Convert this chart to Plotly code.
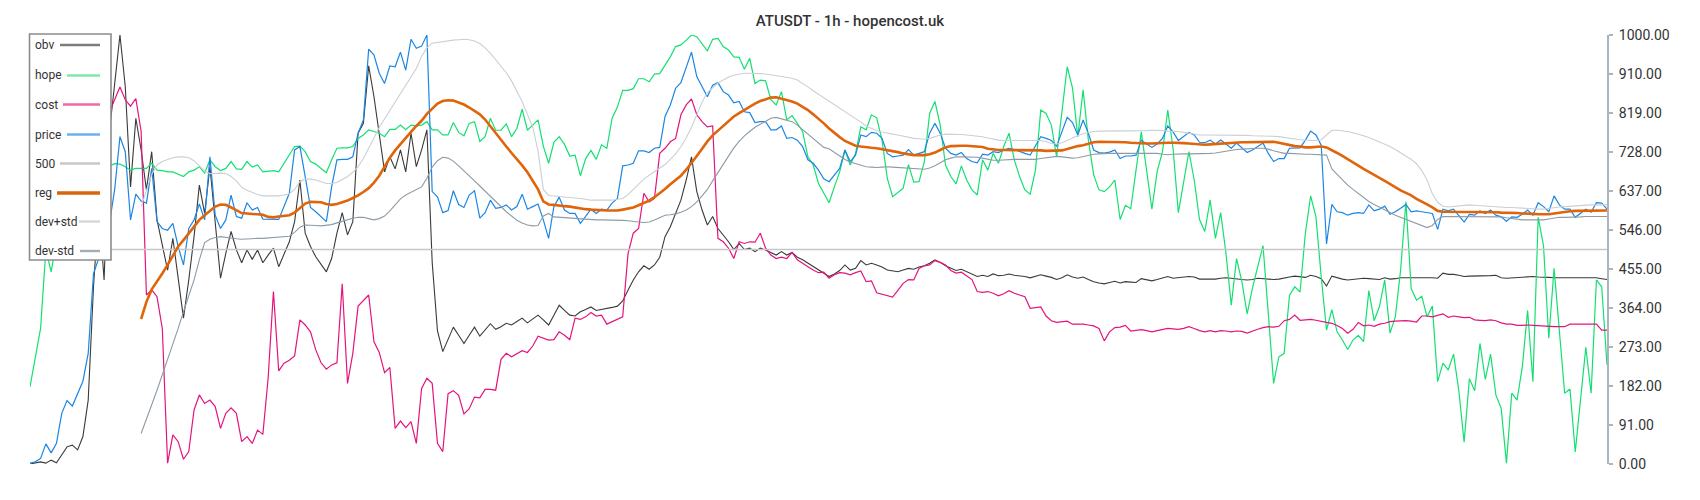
import plotly.graph_objects as go

# ---------------- data ----------------
obv = [
    0, 3, 5, 2, 9, 3, 21, 40, 44, 33,
    64, 149, 413, 600, 429, 774, 886, 1000, 880, 646,
    806, 732, 639, 728, 569, 507, 452, 526, 437, 340,
    429, 530, 650, 584, 693, 569, 433, 491, 542, 499,
    469, 499, 477, 499, 469, 487, 503, 460, 487, 518,
    565, 662, 538, 507, 483, 464, 448, 479, 538, 586,
    534, 565, 771, 794, 928, 856, 771, 681, 716, 688,
    732, 681, 771, 693, 732, 779, 470, 310, 262, 290,
    319, 300, 281, 300, 319, 298, 312, 327, 314, 320,
    328, 324, 332, 340, 329, 338, 347, 336, 324, 347,
    370, 358, 347, 345, 355, 360, 366, 358, 360, 362,
    365, 368, 380, 405, 429, 448, 462, 454, 464, 482,
    530, 553, 584, 615, 662, 716, 635, 592, 557, 577,
    549, 534, 518, 500, 514, 500, 503, 495, 503, 499,
    493, 487, 495, 487, 493, 482, 476, 468, 460, 452,
    445, 437, 443, 451, 464, 452, 456, 474, 464, 468,
    464, 459, 452, 450, 448, 452, 456, 454, 459, 462,
    468, 476, 470, 462, 456, 451, 454, 448, 443, 437,
    440, 437, 443, 439, 440, 443, 440, 439, 437, 434,
    437, 441, 438, 435, 430, 434, 441, 436, 433, 436,
    430, 425, 422, 420, 423, 426, 422, 425, 424, 423,
    432, 429, 427, 430, 433, 437, 433, 434, 436, 437,
    436, 431, 431, 431, 431, 433, 434, 433, 431, 430,
    429, 430, 433, 432, 431, 430, 431, 434, 436, 438,
    437, 435, 440, 437, 432, 415, 438, 434, 431, 429,
    430, 432, 433, 432, 431, 430, 434, 431, 432, 434,
    434, 434, 435, 434, 434, 434, 433, 445, 442, 442,
    440, 437, 438, 438, 438, 438, 439, 440, 434, 433,
    434, 435, 436, 437, 437, 436, 436, 435, 434, 434,
    433, 433, 433, 434, 434, 434, 434, 432, 430,
]

hope = [
    180, 250, 316, 500, 448, 520, 560, 600, 630, 650,
    670, 680, 690, 700, 690, 695, 700, 699, 693, 685,
    689, 689, 689, 701, 685, 684, 681, 681, 676, 670,
    681, 685, 693, 678, 709, 693, 684, 689, 705, 688,
    687, 705, 692, 697, 681, 683, 684, 681, 701, 720,
    740, 741, 728, 705, 699, 689, 679, 709, 736, 737,
    737, 740, 759, 767, 779, 775, 771, 763, 780, 780,
    790, 779, 790, 788, 790, 798, 779, 779, 767, 767,
    796, 773, 765, 794, 798, 752, 763, 806, 778, 778,
    793, 763, 782, 827, 778, 790, 802, 741, 701, 750,
    763, 745, 718, 720, 672, 712, 731, 710, 744, 736,
    806, 832, 871, 871, 875, 898, 898, 891, 909, 910,
    930, 949, 973, 977, 988, 1000, 996, 980, 963, 990,
    992, 973, 965, 949, 948, 920, 946, 887, 895, 893,
    849, 837, 868, 802, 812, 794, 775, 716, 697, 654,
    631, 609, 646, 681, 732, 697, 724, 786, 779, 814,
    807, 755, 666, 623, 633, 643, 698, 657, 658, 705,
    817, 845, 790, 697, 670, 653, 695, 662, 639, 627,
    709, 685, 724, 701, 740, 771, 709, 670, 639, 629,
    685, 825, 817, 790, 716, 829, 926, 876, 763, 872,
    755, 674, 639, 635, 646, 662, 570, 603, 595, 685,
    774, 685, 594, 682, 728, 825, 736, 586, 658, 728,
    662, 570, 542, 615, 526, 586, 491, 370, 479, 425,
    350, 410, 460, 509, 350, 188, 250, 258, 393, 413,
    401, 538, 625, 576, 436, 312, 360, 308, 289, 267,
    289, 300, 285, 404, 334, 367, 429, 305, 343, 452,
    611, 409, 382, 391, 343, 368, 192, 235, 219, 256,
    171, 51, 199, 171, 281, 197, 256, 161, 130, 2,
    165, 149, 227, 358, 192, 575, 509, 293, 456, 310,
    165, 175, 28, 150, 272, 165, 429, 413, 231,
]

cost = [None] * 15 + [
    820, 850, 879, 849, 834,
    852, 775, 394, 406, 390, 316, 2, 68, 52, 11,
    29, 126, 161, 141, 149, 134, 83, 118, 131, 118,
    52, 64, 48, 79, 69, 200, 402, 217, 235, 242,
    252, 336, 324, 308, 266, 236, 221, 231, 236, 420,
    188, 258, 368, 382, 394, 285, 260, 213, 225, 83,
    100, 85, 99, 48, 176, 200, 188, 48, 29, 164,
    171, 160, 117, 129, 156, 154, 174, 174, 172, 244,
    258, 250, 258, 264, 260, 275, 298, 293, 289, 290,
    308, 300, 290, 340, 337, 343, 353, 345, 347, 326,
    332, 337, 343, 490, 538, 549, 631, 611, 619, 724,
    736, 751, 759, 814, 837, 851, 814, 798, 786, 788,
    526, 518, 503, 479, 518, 514, 518, 517, 538, 503,
    487, 479, 482, 479, 493, 476, 469, 460, 452, 446,
    447, 433, 441, 446, 445, 441, 446, 450, 425, 427,
    399, 396, 392, 389, 405, 421, 430, 429, 456, 462,
    464, 474, 470, 464, 451, 445, 447, 438, 430, 402,
    400, 402, 398, 392, 397, 404, 398, 394, 390, 363,
    364, 366, 345, 334, 330, 332, 333, 326, 326, 326,
    324, 322, 316, 287, 308, 318, 319, 323, 310, 312,
    313, 311, 308, 311, 314, 316, 315, 314, 316, 320,
    316, 311, 308, 311, 308, 311, 310, 308, 310, 309,
    305, 310, 314, 318, 320, 319, 321, 334, 337, 347,
    335, 336, 337, 335, 332, 330, 328, 323, 316, 305,
    314, 330, 322, 324, 321, 326, 328, 332, 333, 334,
    334, 333, 331, 345, 345, 343, 347, 350, 342, 345,
    343, 341, 342, 336, 335, 334, 336, 334, 329, 326,
    326, 323, 323, 324, 323, 322, 321, 320, 320, 320,
    320, 326, 326, 326, 326, 326, 326, 312, 312,
]

price = [
    2, 5, 13, 47, 26, 48, 118, 148, 135, 165,
    193, 258, 444, 480, 520, 560, 640, 763, 728, 569,
    629, 613, 608, 689, 565, 549, 545, 561, 507, 464,
    549, 569, 606, 569, 716, 580, 549, 569, 627, 577,
    573, 609, 592, 598, 571, 571, 571, 570, 600, 631,
    732, 740, 670, 598, 588, 577, 565, 646, 709, 710,
    710, 716, 771, 802, 967, 953, 911, 887, 928, 926,
    960, 918, 990, 969, 974, 1000, 635, 623, 586, 591,
    637, 605, 598, 627, 637, 573, 586, 615, 596, 598,
    604, 592, 600, 629, 594, 600, 606, 569, 526, 600,
    622, 592, 584, 584, 561, 577, 594, 584, 594, 592,
    608, 619, 695, 697, 701, 730, 730, 726, 736, 738,
    810, 837, 876, 889, 926, 960, 903, 880, 856, 883,
    889, 868, 860, 842, 845, 821, 819, 796, 798, 798,
    779, 779, 788, 759, 761, 755, 740, 709, 701, 685,
    665, 658, 674, 689, 732, 705, 720, 767, 763, 773,
    771, 759, 724, 716, 718, 720, 733, 720, 724, 728,
    771, 794, 771, 736, 724, 720, 726, 712, 705, 702,
    722, 720, 728, 726, 732, 736, 733, 728, 724, 720,
    740, 763, 759, 754, 741, 775, 808, 796, 767, 802,
    771, 732, 726, 725, 727, 732, 712, 718, 718, 720,
    755, 746, 738, 746, 759, 788, 774, 754, 763, 773,
    767, 750, 749, 755, 746, 755, 746, 736, 748, 736,
    726, 732, 740, 748, 724, 705, 712, 712, 736, 737,
    737, 755, 776, 767, 743, 513, 605, 588, 586, 580,
    584, 586, 584, 604, 590, 594, 601, 582, 588, 596,
    605, 588, 590, 588, 586, 584, 547, 594, 590, 594,
    579, 564, 582, 580, 590, 584, 592, 580, 576, 566,
    576, 575, 582, 592, 580, 609, 600, 588, 625, 604,
    594, 594, 575, 584, 594, 587, 609, 608, 594,
]

reg = [None] * 21 + [
    338, 378, 407, 425, 444, 464, 487, 507, 522,
    538, 555, 569, 580, 591, 600, 605, 604, 598, 592,
    585, 584, 583, 582, 581, 576, 575, 577, 578, 580,
    586, 597, 607, 611, 611, 610, 606, 604, 606, 610,
    614, 620, 626, 634, 643, 656, 672, 693, 714, 731,
    746, 760, 774, 788, 800, 816, 828, 840, 846, 848,
    847, 843, 838, 831, 823, 815, 803, 787, 770, 755,
    740, 725, 711, 696, 680, 660, 640, 612, 605, 604,
    602, 601, 600, 598, 595, 594, 593, 592, 592, 591,
    591, 591, 593, 596, 598, 603, 608, 614, 622, 631,
    641, 652, 661, 672, 686, 701, 718, 735, 752, 766,
    777, 788, 799, 810, 818, 826, 833, 840, 846, 850,
    854, 855, 852, 849, 845, 840, 833, 825, 815, 805,
    794, 782, 771, 762, 753, 747, 742, 740, 738, 737,
    736, 734, 732, 730, 727, 724, 722, 720, 720, 720,
    722, 726, 732, 738, 741, 742, 742, 742, 741, 740,
    739, 735, 733, 732, 732, 732, 732, 732, 732, 732,
    731, 731, 730, 730, 730, 731, 734, 738, 741, 743,
    746, 750, 751, 751, 751, 750, 750, 750, 749, 748,
    747, 747, 747, 748, 748, 749, 749, 749, 748, 747,
    746, 745, 744, 745, 746, 747, 748, 749, 749, 750,
    750, 750, 751, 751, 751, 751, 749, 746, 743, 741,
    740, 738, 738, 739, 740, 738, 732, 725, 718, 710,
    702, 695, 688, 681, 673, 667, 660, 652, 646, 638,
    632, 626, 618, 612, 605, 598, 590, 588, 588, 588,
    588, 588, 588, 588, 588, 587, 587, 587, 586, 586,
    585, 585, 584, 584, 583, 582, 582, 582, 584, 586,
    588, 589, 590, 590, 591, 591, 591, 591, 591,
]

dev_plus_std = [None] * 21 + [
    600, 640, 675, 697, 705, 710, 714, 716, 716,
    714, 707, 695, 683, 677, 678, 678, 677, 670, 660,
    645, 638, 633, 628, 625, 625, 625, 625, 627, 630,
    640, 658, 664, 664, 662, 658, 654, 654, 656, 663,
    670, 680, 693, 712, 735, 760, 785, 805, 825, 845,
    865, 885, 903, 922, 950, 970, 981, 983, 984, 986,
    988, 989, 990, 989, 986, 980, 970, 957, 942, 928,
    912, 893, 870, 845, 815, 785, 730, 640, 626, 625,
    624, 623, 622, 620, 619, 617, 615, 615, 615, 615,
    615, 617, 619, 628, 640, 652, 664, 673, 681, 690,
    698, 710, 723, 740, 760, 785, 815, 843, 866, 878,
    888, 895, 902, 906, 909, 911, 911, 911, 910, 909,
    907, 905, 904, 902, 899, 895, 888, 879, 870, 862,
    853, 845, 838, 830, 822, 815, 807, 797, 788, 782,
    777, 774, 771, 769, 767, 764, 762, 759, 758, 757,
    759, 763, 767, 769, 769, 768, 768, 767, 766, 765,
    763, 760, 757, 755, 754, 754, 754, 754, 754, 754,
    754, 754, 751, 747, 746, 749, 754, 760, 766, 770,
    773, 775, 776, 776, 776, 776, 776, 776, 776, 776,
    776, 777, 778, 778, 777, 776, 776, 775, 773, 771,
    769, 767, 767, 767, 767, 767, 767, 767, 767, 767,
    766, 765, 765, 765, 765, 764, 763, 761, 759, 757,
    756, 755, 754, 754, 756, 766, 778, 778, 777, 775,
    772, 769, 765, 761, 756, 751, 746, 740, 733, 726,
    718, 710, 700, 684, 662, 630, 610, 601, 599, 600,
    602, 603, 604, 603, 602, 601, 600, 599, 598, 598,
    598, 597, 596, 595, 595, 594, 594, 596, 598, 599,
    600, 601, 602, 603, 604, 604, 604, 604, 604,
]

dev_minus_std = [None] * 21 + [
    71, 103, 138, 172, 207, 242, 277, 316, 355,
    390, 429, 476, 516, 524, 528, 530, 528, 526, 525,
    524, 525, 526, 526, 526, 527, 528, 528, 529, 531,
    540, 552, 557, 557, 556, 555, 556, 558, 562, 566,
    570, 573, 575, 575, 572, 569, 572, 578, 590, 605,
    618, 627, 633, 640, 646, 666, 692, 707, 715, 713,
    706, 695, 684, 672, 660, 648, 636, 623, 610, 598,
    588, 578, 568, 562, 557, 555, 556, 578, 584, 576,
    575, 574, 574, 573, 571, 570, 569, 569, 569, 569,
    569, 568, 568, 567, 565, 564, 563, 564, 569, 575,
    580, 581, 583, 587, 592, 600, 611, 625, 640, 660,
    680, 700, 720, 737, 752, 765, 775, 785, 792, 800,
    806, 808, 805, 802, 798, 790, 780, 770, 760, 748,
    738, 735, 726, 718, 710, 704, 700, 696, 693, 692,
    691, 692, 693, 692, 691, 690, 689, 688, 687, 687,
    690, 695, 702, 709, 713, 716, 716, 716, 716, 715,
    713, 710, 708, 708, 709, 709, 710, 710, 710, 710,
    710, 712, 714, 716, 717, 716, 714, 713, 714, 717,
    720, 722, 723, 724, 724, 724, 724, 724, 724, 724,
    724, 724, 724, 724, 722, 721, 722, 723, 723, 723,
    723, 723, 723, 724, 725, 727, 730, 731, 733, 734,
    735, 736, 736, 736, 734, 730, 727, 724, 724, 723,
    723, 722, 722, 721, 721, 720, 688, 675, 662, 650,
    640, 630, 620, 612, 605, 598, 592, 586, 580, 575,
    570, 565, 560, 555, 551, 556, 570, 577, 577, 577,
    577, 577, 577, 577, 577, 577, 577, 577, 576, 574,
    572, 570, 569, 569, 569, 569, 569, 571, 573, 575,
    575, 575, 576, 576, 577, 577, 577, 577, 577,
]

level_500 = 500

y_ticks = [0, 91, 182, 273, 364, 455, 546, 637, 728, 819, 910, 1000]
y_tick_labels = ["0.00", "91.00", "182.00", "273.00", "364.00", "455.00",
                 "546.00", "637.00", "728.00", "819.00", "910.00", "1000.00"]

title_text = "ATUSDT - 1h - hopencost.uk"
legend_names = ["obv", "hope", "cost", "price", "500", "reg", "dev+std", "dev-std"]

# ---------------- sanity check ----------------
series_all = {"obv": obv, "hope": hope, "cost": cost, "price": price,
              "reg": reg, "dev+std": dev_plus_std, "dev-std": dev_minus_std}
lens = {k: len(v) for k, v in series_all.items()}
if len(set(lens.values())) != 1:
    raise ValueError(f"length mismatch: {lens}")

x = list(range(len(price)))

# ---------------- styles ----------------
line_styles = {
    "obv": dict(color="#3a3a3a", width=1.1),
    "hope": dict(color="#14e072", width=1.2),
    "cost": dict(color="#e5147c", width=1.2),
    "price": dict(color="#1c86e4", width=1.2),
    "500": dict(color="#c6c6c6", width=1.6),
    "reg": dict(color="#df640a", width=2.6),
    "dev+std": dict(color="#c9d0d6", width=1.1),
    "dev-std": dict(color="#8e9ba7", width=1.1),
}
swatch_colors = {
    "obv": "#7d7d7d", "hope": "#7fe9a9", "cost": "#ee6aa8", "price": "#6cb0ee",
    "500": "#c8c8c8", "reg": "#d8650c", "dev+std": "#d2d7dc", "dev-std": "#a3adb6",
}

fig = go.Figure()
data_map = {"obv": obv, "hope": hope, "cost": cost, "price": price}
for name in ["obv", "hope", "cost", "price"]:
    fig.add_trace(go.Scatter(x=x, y=data_map[name], mode="lines", name=name,
                             line=line_styles[name], hoverinfo="skip"))
fig.add_trace(go.Scatter(x=[x[0], x[-1]], y=[level_500, level_500], mode="lines",
                         name="500", line=line_styles["500"], hoverinfo="skip"))
for name, ys in [("reg", reg), ("dev+std", dev_plus_std), ("dev-std", dev_minus_std)]:
    fig.add_trace(go.Scatter(x=x, y=ys, mode="lines", name=name,
                             line=line_styles[name], hoverinfo="skip"))

# ---------------- layout ----------------
W, H = 1700, 500
ML, MR, MT, MB = 30, 93, 35, 36
PW, PH = W - ML - MR, H - MT - MB


def px(X):
    return (X - ML) / PW


def py(Y):
    return (H - MB - Y) / PH


# manual legend (text left, swatch right, like the reference)
leg_y = [45, 75.5, 104.5, 134.5, 163.5, 193, 221.5, 251]
sw_x0 = [60, 67, 63, 67, 60, 57, 79, 80]
shapes = [dict(type="rect", xref="paper", yref="paper", layer="above",
               x0=px(29.5), x1=px(111), y0=py(260), y1=py(34),
               fillcolor="white", line=dict(color="#8c8c8c", width=1.6))]
annotations = []
for name, yc, sx in zip(legend_names, leg_y, sw_x0):
    shapes.append(dict(type="line", xref="paper", yref="paper", layer="above",
                       x0=px(sx), x1=px(100), y0=py(yc), y1=py(yc),
                       line=dict(color=swatch_colors[name],
                                 width=3.4 if name == "reg" else 2.4)))
    annotations.append(dict(text=name, xref="paper", yref="paper",
                            x=px(33), y=py(yc), xanchor="left", yanchor="middle",
                            showarrow=False,
                            font=dict(family="Roboto", size=12, color="#333333")))

fig.update_layout(
    width=W, height=H,
    margin=dict(l=ML, r=MR, t=MT, b=MB, pad=0),
    paper_bgcolor="white", plot_bgcolor="white",
    showlegend=False,
    font=dict(family="Roboto", color="#333333"),
    title=dict(text=title_text, x=0.5, xref="container", xanchor="center",
               y=1 - 21 / H, yref="container", yanchor="middle",
               font=dict(family="Roboto", size=15, color="#333333", weight=500)),
    xaxis=dict(visible=False, range=[x[0], x[-1]], fixedrange=True),
    yaxis=dict(side="right", range=[0, 1000], tickvals=y_ticks, ticktext=y_tick_labels,
               showgrid=False, zeroline=False, showline=True, linecolor="#aab4be",
               linewidth=2, ticks="outside", ticklen=4, tickwidth=1.5,
               tickcolor="#aab4be", ticklabelstandoff=3,
               tickfont=dict(family="Roboto", size=14, color="#333333")),
    shapes=shapes,
    annotations=annotations,
)

fig.write_html("out.html", config={"displayModeBar": False},
               post_script="document.body.style.margin='0';document.body.style.overflow='hidden';")
